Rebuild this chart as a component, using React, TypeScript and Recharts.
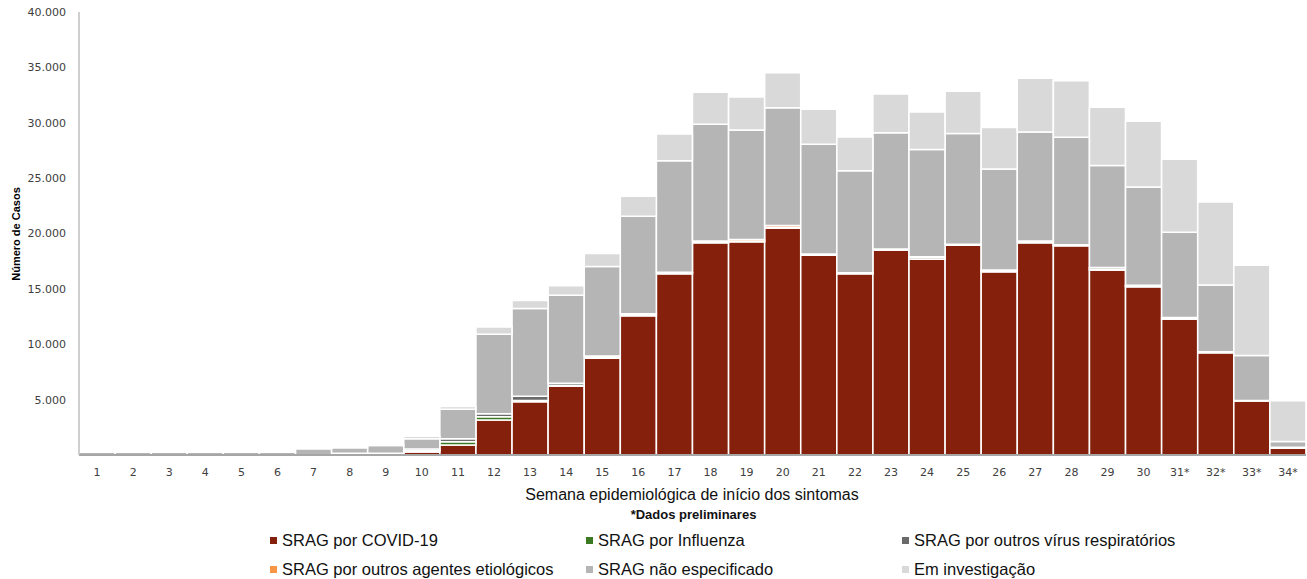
import { BarChart, Bar, XAxis, YAxis } from 'recharts'

const weeks = [
  '1', '2', '3', '4', '5', '6', '7', '8', '9', '10', '11', '12', '13', '14', '15', '16', '17',
  '18', '19', '20', '21', '22', '23', '24', '25', '26', '27', '28', '29', '30', '31*', '32*', '33*', '34*',
]

const covid = [
  0, 0, 0, 0, 0, 0, 20, 30, 40, 270, 900, 3160, 4810, 6230, 8730, 12580, 16370,
  19170, 19260, 20500, 18030, 16370, 18510, 17670, 18940, 16550, 19170, 18900, 16710, 15200, 12280, 9240, 4880, 600,
]
const influenza = [
  0, 0, 0, 0, 0, 0, 0, 10, 100, 120, 300, 300, 100, 30, 20, 10, 10,
  10, 10, 10, 10, 10, 10, 10, 10, 10, 10, 10, 10, 10, 10, 10, 0, 0,
]
const outrosVirus = [
  0, 0, 0, 0, 0, 0, 0, 120, 20, 150, 270, 270, 400, 200, 60, 150, 80,
  120, 40, 40, 80, 60, 60, 150, 60, 120, 120, 60, 180, 90, 120, 60, 40, 100,
]
const outrosAgentes = [
  0, 0, 0, 0, 0, 0, 0, 0, 0, 0, 0, 0, 0, 20, 120, 20, 40,
  30, 150, 180, 30, 20, 20, 60, 20, 20, 20, 20, 20, 20, 10, 10, 0, 0,
]
const naoEspecificado = [
  250, 250, 250, 250, 250, 250, 550, 500, 700, 930, 2650, 7170, 7920, 7950, 8100, 8800, 10080,
  10540, 9880, 10630, 9900, 9210, 10500, 9700, 10000, 9120, 9840, 9690, 9210, 8880, 7700, 6020, 4060, 510,
]
const emInvestigacao = [
  0, 0, 0, 0, 0, 30, 60, 50, 60, 220, 270, 660, 720, 850, 1170, 1800, 2410,
  2890, 2980, 3160, 3160, 3040, 3490, 3370, 3820, 3760, 4850, 5120, 5260, 5930, 6590, 7500, 8150, 3680,
]

const yTicks = [5000, 10000, 15000, 20000, 25000, 30000, 35000, 40000]

const series = [
  { key: 'covid', label: 'SRAG por COVID-19', color: '#85200c' },
  { key: 'influenza', label: 'SRAG por Influenza', color: '#3b7a23' },
  { key: 'outrosVirus', label: 'SRAG por outros vírus respiratórios', color: '#6a6a6a' },
  { key: 'outrosAgentes', label: 'SRAG por outros agentes etiológicos', color: '#f79646' },
  { key: 'naoEspecificado', label: 'SRAG não especificado', color: '#b5b5b5' },
  { key: 'emInvestigacao', label: 'Em investigação', color: '#d9d9d9' },
]

const data = weeks.map((w, i) => ({
  week: w,
  covid: covid[i],
  influenza: influenza[i],
  outrosVirus: outrosVirus[i],
  outrosAgentes: outrosAgentes[i],
  naoEspecificado: naoEspecificado[i],
  emInvestigacao: emInvestigacao[i],
}))

const fmt = (v: number) => String(v).replace(/\B(?=(\d{3})+(?!\d))/g, '.')

const tickFont = { fontFamily: 'DejaVu Sans', fontSize: 11, fill: '#404040' }
const legendCols = [270, 586, 902]

export default function App() {
  return (
    <div style={{ position: 'absolute', left: 0, top: 0, width: 1307, height: 579, background: '#fff', fontFamily: 'Liberation Sans, Arial, sans-serif' }}>
      <BarChart
        width={1307}
        height={579}
        data={data}
        margin={{ top: 12, right: 1, bottom: 94, left: 0 }}
        barCategoryGap={0}
      >
        <XAxis
          dataKey="week"
          tick={tickFont}
          tickLine={false}
          tickSize={0}
          tickMargin={13}
          height={30}
          interval={0}
          axisLine={{ stroke: '#a6a6a6', strokeWidth: 2 }}
        />
        <YAxis
          domain={[0, 40000]}
          ticks={yTicks}
          tickFormatter={fmt}
          tick={tickFont}
          tickLine={false}
          tickSize={0}
          tickMargin={13}
          width={79}
          axisLine={{ stroke: '#bfbfbf', strokeWidth: 1.5 }}
        />
        {series.map((s) => (
          <Bar
            key={s.key}
            dataKey={s.key}
            stackId="a"
            fill={s.color}
            stroke="#ffffff"
            strokeWidth={1.5}
            isAnimationActive={false}
          />
        ))}
      </BarChart>

      {/* y-axis title */}
      <div
        style={{
          position: 'absolute', left: 16, top: 234, transform: 'translate(-50%, -50%) rotate(-90deg)',
          fontSize: 11, fontWeight: 'bold', color: '#000', whiteSpace: 'nowrap',
        }}
      >
        Número de Casos
      </div>

      {/* x-axis titles */}
      <div style={{ position: 'absolute', left: 0, width: 1384, top: 486, textAlign: 'center', fontSize: 16, color: '#111', whiteSpace: 'nowrap' }}>
        Semana epidemiológica de início dos sintomas
      </div>
      <div style={{ position: 'absolute', left: 0, width: 1387, top: 507, textAlign: 'center', fontSize: 13, fontWeight: 'bold', color: '#111', whiteSpace: 'nowrap' }}>
        *Dados preliminares
      </div>

      {/* legend */}
      {series.map((s, i) => {
        const col = i % 3
        const row = Math.floor(i / 3)
        return (
          <div
            key={s.key}
            style={{
              position: 'absolute', left: legendCols[col], top: 530 + row * 29,
              display: 'flex', alignItems: 'center', fontSize: 16.5, color: '#111', whiteSpace: 'nowrap', height: 20,
            }}
          >
            <span style={{ display: 'inline-block', width: 7, height: 7, background: s.color, marginRight: 5 }} />
            {s.label}
          </div>
        )
      })}
    </div>
  )
}
